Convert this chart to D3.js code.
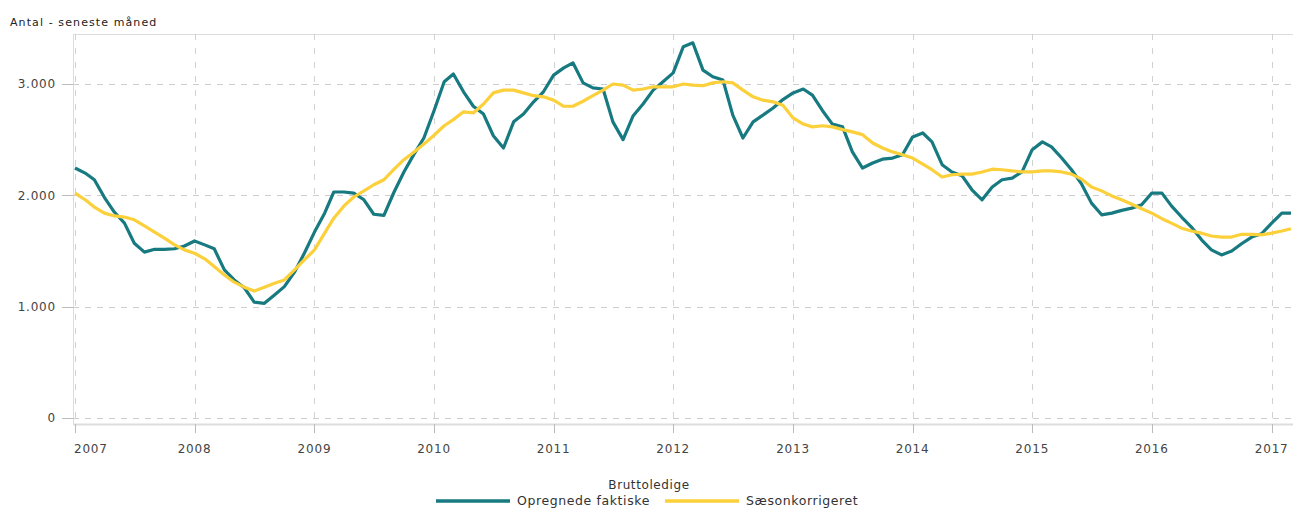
<!DOCTYPE html>
<html>
<head>
<meta charset="utf-8">
<script src="https://cdn.jsdelivr.net/npm/d3@7"></script>
<style>
  body { margin: 0; background: #fff; }
  svg { font-family: "DejaVu Sans", sans-serif; }
</style>
</head>
<body>
<div class="container"></div>
<script>
// month by month, Jan 2007 - Mar 2017
const years = ['2007','2008','2009','2010','2011','2012','2013','2014','2015','2016','2017']
const yTicks = [0, 1000, 2000, 3000]

const faktiske = [
  2245,2200,2140,1980,1850,1750,1570,1490,1515,1515,1520,1545,
  1590,1555,1520,1330,1240,1170,1040,1030,1105,1180,1310,1480,
  1670,1840,2030,2030,2020,1960,1830,1820,2030,2210,2370,2515,
  2760,3020,3090,2930,2800,2730,2535,2425,2660,2730,2840,2930,
  3080,3145,3190,3010,2965,2955,2660,2500,2715,2820,2945,3020,
  3100,3335,3370,3125,3065,3035,2720,2515,2660,2720,2785,2860,
  2920,2955,2900,2760,2640,2615,2390,2245,2290,2325,2335,2365,
  2525,2560,2480,2275,2210,2175,2050,1960,2075,2140,2155,2210,
  2410,2480,2435,2335,2230,2100,1930,1825,1840,1865,1885,1915,
  2020,2020,1905,1805,1715,1600,1510,1465,1500,1565,1625,1655,
  1750,1840,1840
]

const saeson = [
  2020,1960,1895,1840,1815,1805,1780,1725,1670,1615,1555,1510,
  1480,1430,1360,1285,1220,1175,1140,1175,1210,1240,1330,1420,
  1510,1660,1795,1905,1985,2040,2095,2140,2235,2320,2390,2460,
  2540,2625,2680,2750,2740,2820,2920,2945,2945,2920,2895,2885,
  2855,2800,2800,2845,2895,2945,3000,2990,2945,2955,2975,2975,
  2975,3000,2990,2985,3010,3020,3010,2945,2885,2855,2840,2810,
  2695,2640,2615,2625,2615,2590,2570,2545,2470,2425,2390,2365,
  2335,2280,2230,2165,2185,2190,2190,2210,2235,2230,2220,2210,
  2210,2220,2220,2210,2190,2145,2075,2040,1995,1960,1920,1880,
  1840,1790,1750,1705,1680,1660,1635,1625,1625,1650,1650,1645,
  1660,1680,1700
]

const months = d3.timeMonth.range(new Date(2007, 0, 1), new Date(2017, 3, 1))

const W = 1293, H = 509
const plot = {left: 73, right: 1293, top: 34, bottom: 424}

const svg = d3.select('.container')
    .append('svg')
    .attr('width', W)
    .attr('height', H)

const xScale = d3.scaleTime()
    .domain([months[0], months[months.length - 1]])
    .range([75, 1291])

const yScale = d3.scaleLinear()
    .domain([0, 3000])
    .range([418, 84])

// frame
svg.append('line')
    .attr('x1', plot.left).attr('x2', plot.right)
    .attr('y1', plot.top + 0.5).attr('y2', plot.top + 0.5)
    .attr('stroke', '#ddd')
svg.append('line')
    .attr('x1', plot.left + 0.5).attr('x2', plot.left + 0.5)
    .attr('y1', plot.top).attr('y2', plot.bottom)
    .attr('stroke', '#ddd')

// horizontal grid + y ticks
const yG = svg.append('g')
yG.selectAll('line.grid')
    .data(yTicks)
    .enter()
    .append('line')
    .attr('class', 'grid')
    .attr('x1', plot.left).attr('x2', plot.right)
    .attr('y1', d => Math.round(yScale(d)) + 0.5)
    .attr('y2', d => Math.round(yScale(d)) + 0.5)
    .attr('stroke', '#cdcdcd')
    .attr('stroke-dasharray', '6,6')
yG.selectAll('line.tick')
    .data(yTicks)
    .enter()
    .append('line')
    .attr('class', 'tick')
    .attr('x1', 62).attr('x2', plot.left)
    .attr('y1', d => Math.round(yScale(d)) + 0.5)
    .attr('y2', d => Math.round(yScale(d)) + 0.5)
    .attr('stroke', '#bbb')
yG.selectAll('text')
    .data(yTicks)
    .enter()
    .append('text')
    .attr('x', 56)
    .attr('y', d => yScale(d))
    .attr('dy', '0.35em')
    .attr('text-anchor', 'end')
    .attr('font-size', 12)
    .attr('letter-spacing', 0.8)
    .attr('fill', '#444')
    .text(d => d3.format(',')(d).replace(/,/g, '.'))

// vertical grid + x axis
const yearDates = years.map(y => new Date(+y, 0, 1))
svg.append('g')
    .selectAll('line')
    .data(yearDates)
    .enter()
    .append('line')
    .attr('x1', d => Math.round(xScale(d)) + 0.5)
    .attr('x2', d => Math.round(xScale(d)) + 0.5)
    .attr('y1', plot.top).attr('y2', plot.bottom)
    .attr('stroke', '#d2d2d2')
    .attr('stroke-dasharray', '6,8')

svg.append('line')
    .attr('x1', plot.left).attr('x2', plot.right)
    .attr('y1', plot.bottom + 0.5).attr('y2', plot.bottom + 0.5)
    .attr('stroke', '#ddd')
    .attr('stroke-width', 2)

const xG = svg.append('g')
xG.selectAll('line')
    .data(yearDates)
    .enter()
    .append('line')
    .attr('x1', d => Math.round(xScale(d)) + 0.5)
    .attr('x2', d => Math.round(xScale(d)) + 0.5)
    .attr('y1', plot.bottom).attr('y2', plot.bottom + 9)
    .attr('stroke', '#bbb')
xG.selectAll('text')
    .data(yearDates)
    .enter()
    .append('text')
    .attr('x', (d, i) => i === 0 ? xScale(d) - 1 : xScale(d))
    .attr('y', 449)
    .attr('dy', '0.35em')
    .attr('text-anchor', (d, i) => i === 0 ? 'start' : 'middle')
    .attr('font-size', 12)
    .attr('letter-spacing', 0.8)
    .attr('fill', '#444')
    .text((d, i) => years[i])

// series
const line = d3.line()
    .x((d, i) => xScale(months[i]))
    .y(d => yScale(d))

svg.append('path')
    .datum(faktiske)
    .attr('d', line)
    .attr('fill', 'none')
    .attr('stroke', '#167a80')
    .attr('stroke-width', 3.2)
    .attr('stroke-linejoin', 'round')

svg.append('path')
    .datum(saeson)
    .attr('d', line)
    .attr('fill', 'none')
    .attr('stroke', '#fcd03a')
    .attr('stroke-width', 3.2)
    .attr('stroke-linejoin', 'round')

// y title
svg.append('text')
    .attr('x', 10)
    .attr('y', 26)
    .attr('font-size', 11)
    .attr('letter-spacing', 1.1)
    .attr('fill', '#222')
    .text('Antal - seneste måned')

// legend
svg.append('text')
    .attr('x', 649)
    .attr('y', 489)
    .attr('text-anchor', 'middle')
    .attr('font-size', 12)
    .attr('letter-spacing', 0.6)
    .attr('fill', '#333')
    .text('Bruttoledige')

const legend = [
  {label: 'Opregnede faktiske', color: '#167a80', x: 436},
  {label: 'Sæsonkorrigeret', color: '#fcd03a', x: 665}
]
const lg = svg.append('g')
    .selectAll('g')
    .data(legend)
    .enter()
    .append('g')
    .attr('transform', d => 'translate(' + d.x + ', 501)')
lg.append('line')
    .attr('x1', 0).attr('x2', 74)
    .attr('stroke', d => d.color)
    .attr('stroke-width', 3.5)
lg.append('text')
    .attr('x', 81)
    .attr('dy', '0.35em')
    .attr('font-size', 12.5)
    .attr('letter-spacing', 0.6)
    .attr('fill', '#333')
    .text(d => d.label)
</script>
</body>
</html>
